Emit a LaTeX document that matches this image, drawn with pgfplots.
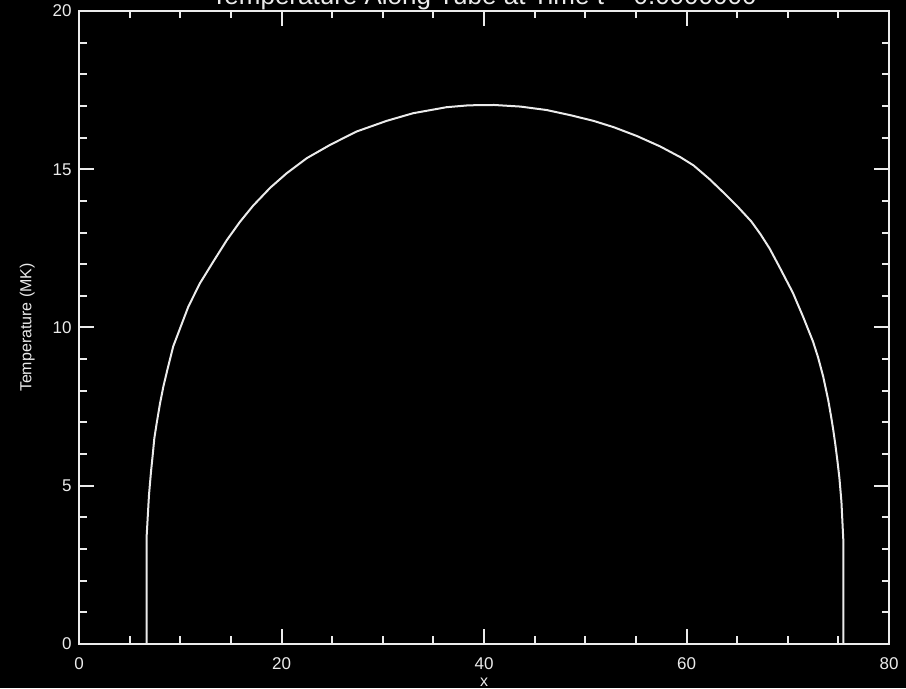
\documentclass[border=0pt]{standalone}
\usepackage{pgfplots}
\pgfplotsset{compat=1.18}
\usepackage{fontspec}
\setmainfont{Liberation Sans}
\usetikzlibrary{backgrounds,calc}
\definecolor{fg}{rgb}{0.92,0.92,0.92}

\begin{document}
\begin{tikzpicture}
\begin{axis}[
  scale only axis,
  width=405pt, height=316.5pt,
  xmin=0, xmax=80, ymin=0, ymax=20,
  xtick={0,20,...,80}, ytick={0,5,...,20},
  minor x tick num=3, minor y tick num=4,
  major tick length=7.5pt, minor tick length=3.75pt,
  axis line style={fg, line width=1pt},
  every tick/.style={fg, line width=1pt},
  tick label style={fg, inner sep=0pt, font=\fontsize{8.5}{9}\selectfont},
  /pgf/number format/assume math mode=true,
  xticklabel shift=6.5pt, yticklabel shift=3.5pt,
  xlabel={x}, ylabel={Temperature (MK)},
  xlabel style={fg, font=\fontsize{8}{9}\selectfont, at={(axis description cs:0.5,-0.06)}, anchor=center},
  ylabel style={fg, font=\fontsize{8}{9}\selectfont, at={(axis description cs:-0.064,0.5)}, anchor=center},
]
\addplot[fg, line width=1pt] coordinates {
(6.68,0) (6.68,3.4) (6.91,4.7) (7.11,5.44) (7.28,5.97) (7.44,6.5) (7.67,6.97)
(8.0,7.6) (8.33,8.13) (8.8,8.76) (9.3,9.4) (10.3,10.24) (10.8,10.66)
(11.95,11.4) (13.3,12.1) (14.6,12.76) (15.9,13.34) (17.2,13.85) (18.9,14.42)
(20.5,14.87) (22.5,15.35) (24.8,15.77) (27.4,16.19) (30.4,16.53) (33.0,16.77)
(36.3,16.96) (38.5,17.02) (41,17.03) (43.6,16.98) (46.2,16.87) (48.5,16.71)
(50.8,16.53) (52.8,16.33) (55.1,16.05) (57.4,15.72) (59.4,15.38) (60.7,15.12)
(62.3,14.68) (63.6,14.28) (64.96,13.85) (66.4,13.35) (67.3,12.95) (68.2,12.5)
(69.2,11.9) (70.5,11.1) (71.5,10.35) (72.5,9.55) (73.0,9.05) (73.5,8.45)
(74.0,7.7) (74.3,7.15) (74.5,6.75) (74.7,6.3) (74.9,5.8) (75.1,5.25)
(75.3,4.5) (75.5,3.2) (75.5,0)
};
\end{axis}
\node[fg, anchor=base, font=\fontsize{13}{14}\selectfont, inner sep=0pt]
  at ($(current axis.north)+(0,3pt)$) {Temperature Along Tube at Time t = 0.0000000};
\pgfresetboundingbox
\useasboundingbox ($(current axis.south west)+(-39.5pt,-22pt)$) rectangle ($(current axis.north east)+(8.5pt,5.5pt)$);
\begin{pgfonlayer}{background}
\fill[black] ($(current axis.south west)+(-39.5pt,-22pt)$) rectangle ($(current axis.north east)+(8.5pt,5.5pt)$);
\end{pgfonlayer}
\end{tikzpicture}
\end{document}
